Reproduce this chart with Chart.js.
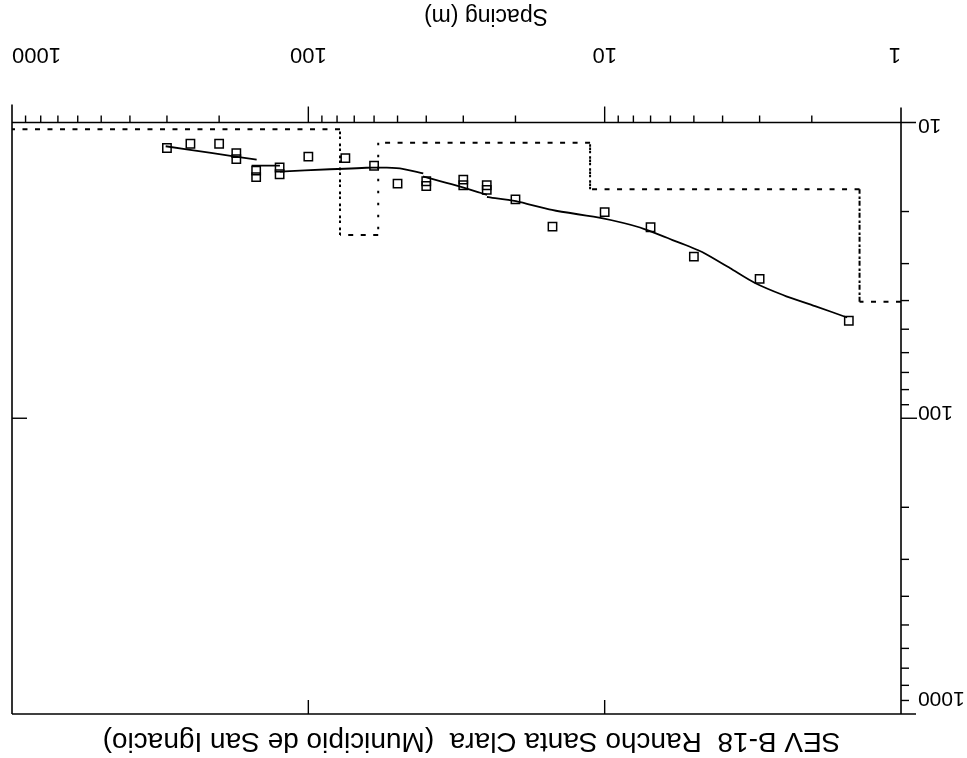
<!DOCTYPE html>
<html>
<head>
<meta charset="utf-8">
<script src="https://cdn.jsdelivr.net/npm/chart.js@4.4.1/dist/chart.umd.min.js"></script>
<style>
  html, body { margin: 0; padding: 0; background: #fff; overflow: hidden; }
  /* the sheet is printed upside down */
  #sheet { width: 967px; height: 758px; transform: rotate(180deg); }
  canvas { display: block; }
</style>
</head>
<body>
<div id="sheet"><canvas id="sev" width="967" height="758"></canvas></div>
<script>
// Field readings: AB/2 spacing (m) and apparent resistivity (ohm-m)
const spacing     = [1.5, 3, 5, 7, 10, 15, 20, 25, 25, 30, 30, 40, 40, 50, 60, 75, 100, 125, 125, 150, 150, 175, 175, 200, 250, 300];
const rhoApparent = [46.8, 33.8, 28.4, 22.6, 20.1, 22.5, 18.2, 16.3, 16.9, 15.6, 16.3, 15.8, 16.4, 16.1, 14.0, 13.2, 13.05, 14.2, 14.96, 14.55, 15.3, 12.7, 13.3, 11.8, 11.8, 12.2];

// Computed sounding curve, one branch per MN opening
const branch1Spacing = [303, 213, 149.4];
const branch1Rho     = [12.03, 12.67, 13.36];
const branch2Spacing = [155.4, 124.7];
const branch2Rho     = [14.0, 14.0];
const branch3Spacing = [124.7, 84.6, 60.5, 49.1, 40.95];
const branch3Rho     = [14.67, 14.39, 14.22, 14.29, 14.85];
const branch4Spacing = [41.04, 32.0, 24.96];
const branch4Rho     = [15.22, 16.27, 17.58];
const branch5Spacing = [24.96, 19.93, 15.06, 10.13, 7.60, 6.02, 4.69, 3.78, 3.11, 2.50, 1.95, 1.52];
const branch5Rho     = [17.86, 18.43, 19.76, 21.11, 22.65, 24.77, 27.41, 31.05, 34.88, 38.31, 41.74, 45.63];

// Layered model: resistivity of each layer and depth to its base (m)
const layerRho    = [40.4, 16.8, 11.7, 24.0, 10.54];
const layerBottom = [1.38, 11.2, 58.1, 78.2];

// Axis ticks
const xMajorTicks = [1, 10, 100, 1000];
const xMinorTicks = [2,3,4,5,6,7,8,9, 20,30,40,50,60,70,80,90, 200,300,400,500,600,700,800,900];
const yMajorTicks = [10, 100, 1000];
const yMinorTicks = [20,30,40,50,60,70,80,90, 200,300,400,500,600,700,800,900];
const yTickLabels = ['10', '100', '1000'];
const xAxisTitle  = 'Spacing (m)';

const pts = (xs, ys) => xs.map((x, i) => ({ x: x, y: ys[i] }));

// step outline of the layered model
function modelSteps() {
  const out = [];
  let top = 1;
  layerRho.forEach((rho, i) => {
    const base = i < layerBottom.length ? layerBottom[i] : 1000;
    out.push({ x: top, y: rho }, { x: base, y: rho });
    top = base;
  });
  return out;
}

const sans = "'Liberation Sans',Arial,sans-serif";
const INK = '#000';

const curveStyle = { type: 'line', borderColor: INK, borderWidth: 1.8, pointRadius: 0, tension: 0.25, fill: false };

const frameAndTicks = {
  id: 'frameAndTicks',
  afterDatasetsDraw(chart) {
    const { ctx, chartArea: a, scales: { x, y } } = chart;
    ctx.save();
    ctx.strokeStyle = INK;
    ctx.lineWidth = 1.6;
    ctx.lineCap = 'butt';
    const seg = (x1, y1, x2, y2) => { ctx.beginPath(); ctx.moveTo(x1, y1); ctx.lineTo(x2, y2); ctx.stroke(); };

    // frame, with the end ticks running out past the corners
    seg(a.left - 15, a.bottom, a.right, a.bottom);
    seg(a.left - 15, a.top, a.right, a.top);
    seg(a.left, a.top, a.left, a.bottom + 15);
    seg(a.right, a.top, a.right, a.bottom + 18);

    ctx.lineWidth = 1.4;
    xMinorTicks.forEach(v => { const p = x.getPixelForValue(v); seg(p, a.bottom, p, a.bottom + 7); });
    xMajorTicks.slice(1, -1).forEach(v => {
      const p = x.getPixelForValue(v);
      seg(p, a.bottom, p, a.bottom + 16);
      seg(p, a.top, p, a.top + 14);
    });
    yMinorTicks.forEach(v => { const p = y.getPixelForValue(v); seg(a.left - 8, p, a.left, p); });
    yMajorTicks.slice(1, -1).forEach(v => {
      const p = y.getPixelForValue(v);
      seg(a.left - 16, p, a.left, p);
      seg(a.right - 15, p, a.right, p);
    });

    ctx.fillStyle = INK;
    // resistivity labels, kept inside the decade they name
    ctx.font = '21px ' + sans;
    ctx.textAlign = 'right';
    ctx.textBaseline = 'alphabetic';
    const shift = [3, 12, 22];
    yMajorTicks.forEach((v, i) => {
      ctx.fillText(yTickLabels[i], a.left - 17, y.getPixelForValue(v) + shift[i]);
    });

    // spacing axis title, set a little left of centre
    ctx.font = '23px ' + sans;
    ctx.textAlign = 'center';
    ctx.textBaseline = 'middle';
    ctx.fillText(xAxisTitle, 481, 743);
    ctx.restore();
  }
};

new Chart(document.getElementById('sev'), {
  data: {
    datasets: [
      { type: 'scatter', data: pts(spacing, rhoApparent), pointStyle: 'rect', pointRadius: 5.9,
        borderColor: INK, borderWidth: 1.5, backgroundColor: 'rgba(0,0,0,0)' },
      Object.assign({ data: pts(branch1Spacing, branch1Rho) }, curveStyle),
      Object.assign({ data: pts(branch2Spacing, branch2Rho) }, curveStyle),
      Object.assign({ data: pts(branch3Spacing, branch3Rho) }, curveStyle),
      Object.assign({ data: pts(branch4Spacing, branch4Rho) }, curveStyle),
      Object.assign({ data: pts(branch5Spacing, branch5Rho) }, curveStyle),
      { type: 'line', data: modelSteps(), borderColor: INK, borderWidth: 2, pointRadius: 0, tension: 0, fill: false,
        segment: { borderDash: c => (c.p0.parsed.x === c.p1.parsed.x ? [2.5, 9.5] : [5, 7.5]) } }
    ]
  },
  options: {
    responsive: false,
    animation: false,
    layout: { padding: { left: 36, right: 12, top: 0, bottom: 0 } },
    plugins: {
      legend: { display: false },
      tooltip: { enabled: false },
      title: {
        display: true,
        text: 'SEV B-18  Rancho Santa Clara  (Municipio de San Ignacio)',
        color: INK,
        font: { family: sans, size: 28, weight: 'normal', lineHeight: 1.2 },
        padding: { top: 0, bottom: 10.4 }
      }
    },
    scales: {
      x: {
        type: 'logarithmic', position: 'bottom', min: 1, max: 1000,
        grid: { display: false, drawTicks: false }, border: { display: false },
        afterBuildTicks: s => { s.ticks = xMajorTicks.map(v => ({ value: v })); },
        afterFit: s => { s.height = 122.5; s.paddingLeft = 0; s.paddingRight = 0; },
        ticks: { autoSkip: false, maxRotation: 0, align: 'inner', padding: 55, color: INK,
                 font: { family: sans, size: 22 }, callback: v => String(v) }
      },
      y: {
        type: 'logarithmic', position: 'left', min: 10, max: 1000,
        grid: { display: false, drawTicks: false }, border: { display: false },
        afterBuildTicks: s => { s.ticks = yMajorTicks.map(v => ({ value: v })); },
        afterFit: s => { s.width = 30; s.paddingTop = 0; s.paddingBottom = 0; },
        ticks: { display: false }
      }
    }
  },
  plugins: [frameAndTicks]
});
</script>
</body>
</html>
